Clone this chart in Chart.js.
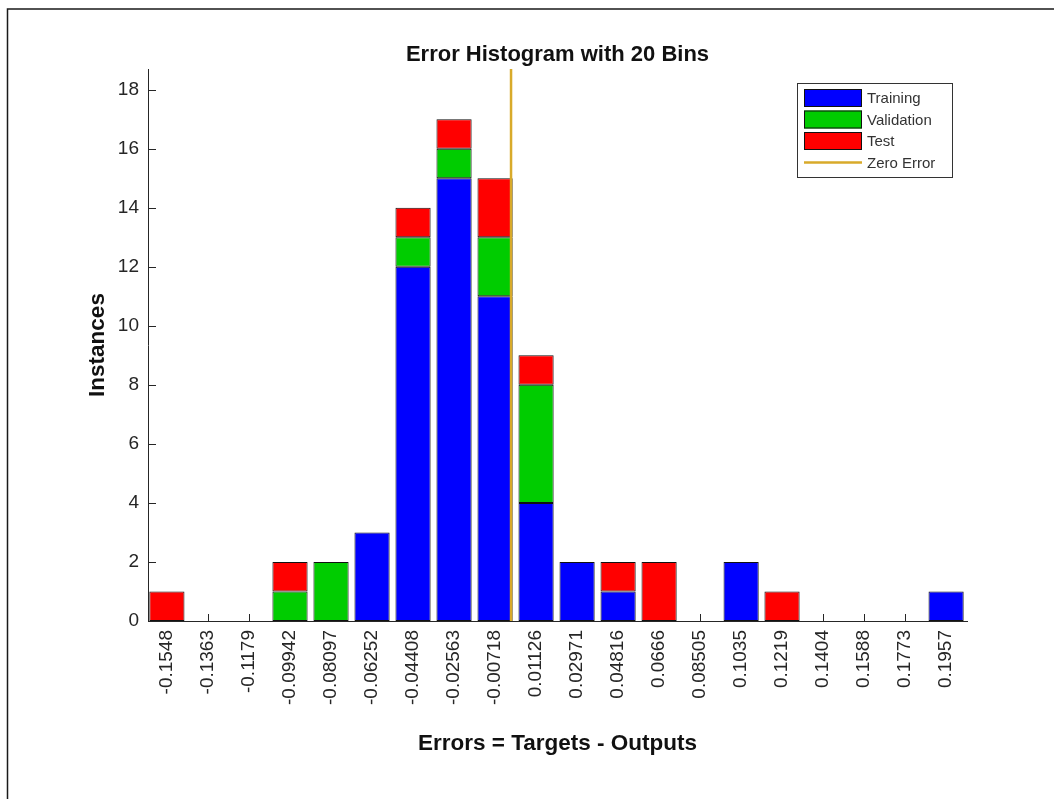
<!DOCTYPE html>
<html>
<head>
<meta charset="utf-8">
<script src="https://cdn.jsdelivr.net/npm/chart.js@4"></script>
<style>
html,body{margin:0;padding:0;background:#fff;}
#wrap{width:1054px;height:799px;position:relative;}
</style>
</head>
<body>
<div id="wrap"><canvas id="c" width="1054" height="799"></canvas></div>
<script>
// ---- data ----
const binCenters = [-0.1548, -0.1363, -0.1179, -0.09942, -0.08097, -0.06252, -0.04408, -0.02563, -0.00718, 0.01126, 0.02971, 0.04816, 0.0666, 0.08505, 0.1035, 0.1219, 0.1404, 0.1588, 0.1773, 0.1957];
const tickLabels = ["-0.1548", "-0.1363", "-0.1179", "-0.09942", "-0.08097", "-0.06252", "-0.04408", "-0.02563", "-0.00718", "0.01126", "0.02971", "0.04816", "0.0666", "0.08505", "0.1035", "0.1219", "0.1404", "0.1588", "0.1773", "0.1957"];
const training   = [0, 0, 0, 0, 0, 3, 12, 15, 11, 4, 2, 1, 0, 0, 2, 0, 0, 0, 0, 1];
const validation = [0, 0, 0, 1, 2, 0, 1, 1, 2, 4, 0, 0, 0, 0, 0, 0, 0, 0, 0, 0];
const test       = [1, 0, 0, 1, 0, 0, 1, 1, 2, 1, 0, 1, 2, 0, 0, 1, 0, 0, 0, 0];
const zeroError  = 0;
const yTicks = [0, 2, 4, 6, 8, 10, 12, 14, 16, 18];
const xMin = -0.1633, xMax = 0.2051, yMax = 18.7;
const titleText = 'Error Histogram with 20 Bins';

const toPts = arr => binCenters.map((x, i) => ({x: x, y: arr[i] === 0 ? null : arr[i]}));
const FONT = '"Liberation Sans", Arial, Helvetica, sans-serif';
const AX = '#262626';

const framePlugin = {
  id: 'frame',
  beforeDraw(chart) {
    const ctx = chart.ctx;
    ctx.save();
    ctx.fillStyle = '#fff';
    ctx.fillRect(0, 0, chart.width, chart.height);
    ctx.strokeStyle = '#1a1a1a';
    ctx.lineWidth = 1.5;
    ctx.beginPath();
    ctx.moveTo(7.5, chart.height);
    ctx.lineTo(7.5, 9);
    ctx.lineTo(chart.width, 9);
    ctx.stroke();
    ctx.restore();
  }
};

const ticksPlugin = {
  id: 'inTicks',
  beforeDatasetsDraw(chart) {
    const ctx = chart.ctx, x = chart.scales.x, y = chart.scales.y;
    const a = chart.chartArea;
    ctx.save();
    ctx.strokeStyle = AX;
    ctx.lineWidth = 1;
    ctx.beginPath();
    x.ticks.forEach(t => {
      const px = Math.round(x.getPixelForValue(t.value)) + 0.5;
      ctx.moveTo(px, a.bottom);
      ctx.lineTo(px, a.bottom - 7);
    });
    y.ticks.forEach(t => {
      const py = Math.round(y.getPixelForValue(t.value)) + 0.5;
      ctx.moveTo(a.left, py);
      ctx.lineTo(a.left + 8, py);
    });
    ctx.stroke();
    ctx.restore();
  }
};

const titlePlugin = {
  id: 'axTitle',
  afterDraw(chart) {
    const ctx = chart.ctx, a = chart.chartArea;
    ctx.save();
    ctx.fillStyle = '#111';
    ctx.font = 'bold 22px ' + FONT;
    ctx.textAlign = 'center';
    ctx.textBaseline = 'middle';
    ctx.fillText(titleText, (a.left + a.right) / 2, 55);
    ctx.restore();
  }
};

const legendPlugin = {
  id: 'boxLegend',
  afterDraw(chart) {
    const ctx = chart.ctx;
    const L = 797, T = 83, W = 155, H = 94;
    ctx.save();
    ctx.fillStyle = '#fff';
    ctx.fillRect(L, T, W, H);
    ctx.strokeStyle = '#333';
    ctx.lineWidth = 1;
    ctx.strokeRect(L + 0.5, T + 0.5, W, H);
    ctx.font = '15px ' + FONT;
    ctx.textBaseline = 'middle';
    chart.data.datasets.forEach((ds, i) => {
      const cy = T + 15 + i * 21.5;
      if (ds.type === 'line') {
        ctx.strokeStyle = ds.borderColor;
        ctx.lineWidth = 2.5;
        ctx.beginPath();
        ctx.moveTo(L + 7, cy);
        ctx.lineTo(L + 65, cy);
        ctx.stroke();
      } else {
        ctx.fillStyle = ds.backgroundColor;
        ctx.fillRect(L + 7, cy - 9, 58, 18);
        ctx.strokeStyle = '#111';
        ctx.lineWidth = 1;
        ctx.strokeRect(L + 7.5, cy - 8.5, 57, 17);
      }
      ctx.fillStyle = '#333';
      ctx.fillText(ds.label, L + 70, cy + 1);
    });
    ctx.restore();
  }
};

const barCommon = {
  type: 'bar', stack: 's', order: 1,
  borderColor: '#111', borderWidth: 1, borderSkipped: false,
  barPercentage: 0.86, categoryPercentage: 1.0
};

new Chart(document.getElementById('c'), {
  data: {
    datasets: [
      Object.assign({label: 'Training', data: toPts(training), backgroundColor: '#0000ff'}, barCommon),
      Object.assign({label: 'Validation', data: toPts(validation), backgroundColor: '#00cc00'}, barCommon),
      Object.assign({label: 'Test', data: toPts(test), backgroundColor: '#ff0000'}, barCommon),
      {type: 'line', label: 'Zero Error', stack: 'zero', order: 0,
       data: [{x: zeroError, y: 0}, {x: zeroError, y: yMax}],
       borderColor: '#d8aa2a', borderWidth: 2.5, pointRadius: 0, fill: false}
    ]
  },
  options: {
    responsive: false,
    animation: false,
    layout: {padding: {left: 0, right: 87, top: 69, bottom: 0}},
    plugins: {
      legend: {display: false},
      tooltip: {enabled: false},
      title: {display: false}
    },
    scales: {
      x: {
        type: 'linear', min: xMin, max: xMax, stacked: true, offset: false,
        afterBuildTicks: s => { s.ticks = binCenters.map(v => ({value: v})); },
        afterFit: s => { s.height = 178; },
        grid: {display: false, drawTicks: false, offset: false},
        border: {display: true, color: AX, width: 1},
        ticks: {
          autoSkip: false, maxRotation: 90, minRotation: 90, padding: 9,
          color: AX, font: {family: FONT, size: 19},
          callback: (v, i) => tickLabels[i]
        },
        title: {
          display: true, text: 'Errors = Targets - Outputs', color: '#111',
          font: {family: FONT, size: 22.5, weight: 'bold', lineHeight: 1.2},
          padding: {top: 0, bottom: 42}
        }
      },
      y: {
        min: 0, max: yMax, stacked: true,
        afterBuildTicks: s => { s.ticks = yTicks.map(v => ({value: v})); },
        afterFit: s => { s.width = 148; },
        grid: {display: false, drawTicks: false},
        border: {display: true, color: AX, width: 1},
        ticks: {padding: 9, color: AX, font: {family: FONT, size: 19}},
        title: {
          display: true, text: 'Instances', color: '#111',
          font: {family: FONT, size: 22.5, weight: 'bold', lineHeight: 1.2},
          padding: {top: 84, bottom: 0}
        }
      }
    }
  },
  plugins: [framePlugin, ticksPlugin, titlePlugin, legendPlugin]
});
</script>
</body>
</html>
